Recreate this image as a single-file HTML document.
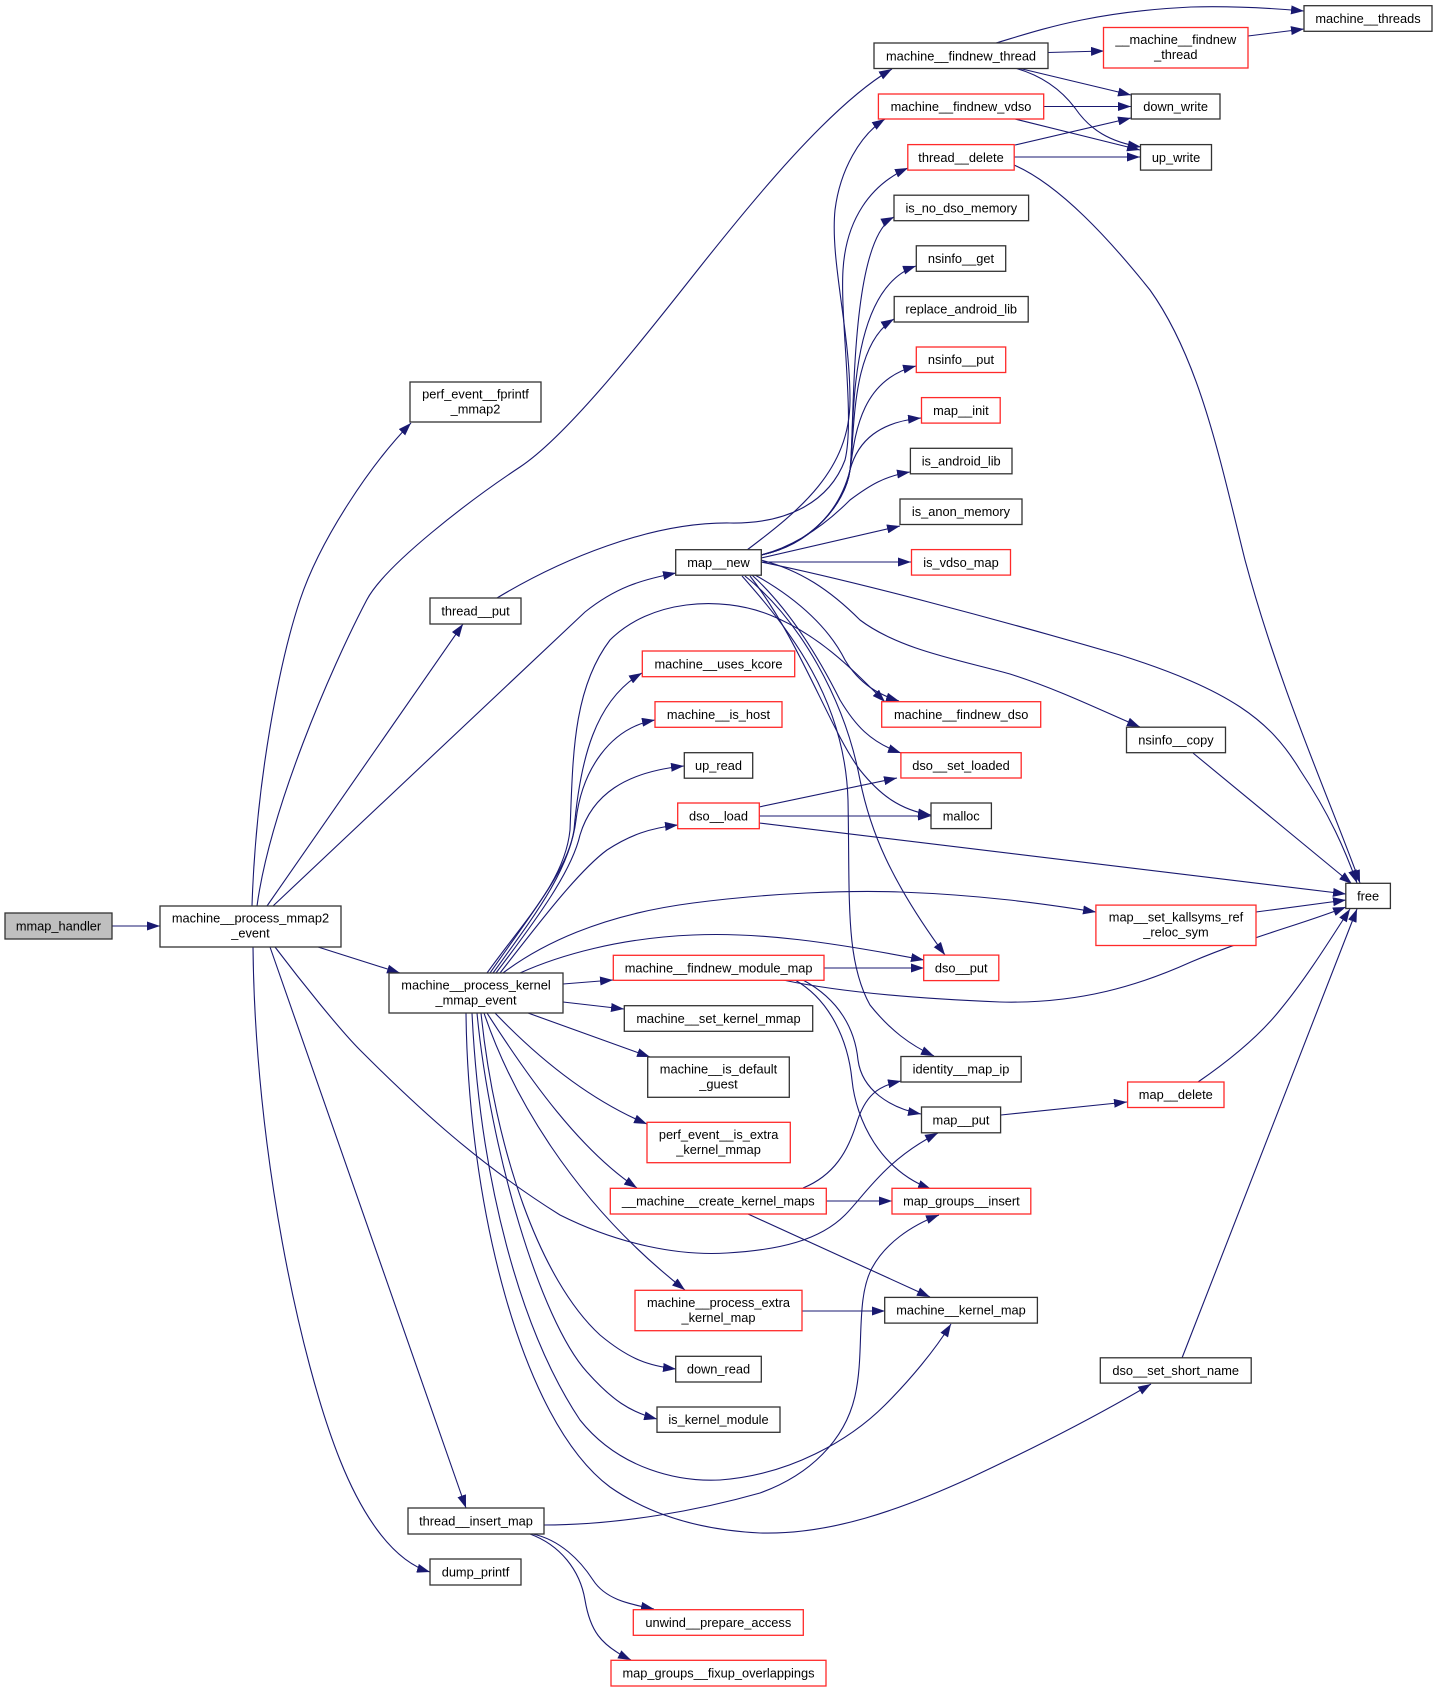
<!DOCTYPE html>
<html>
<head>
<meta charset="utf-8">
<style>
html,body{margin:0;padding:0;background:#fff;}
svg{display:block;}
text{font-family:"Liberation Sans",Arial,sans-serif;font-size:12.8px;fill:#000;text-anchor:middle;}
.e path{fill:none;stroke:#191970;stroke-width:1.1;marker-end:url(#a);}
.n rect{fill:#fff;stroke:#333;stroke-width:1.3;}
.n.r rect{stroke:#ff2a2a;}
</style>
</head>
<body>
<svg width="1437" height="1692" viewBox="0 0 1437 1692" xmlns="http://www.w3.org/2000/svg">
<defs>
<marker id="a" markerWidth="13" markerHeight="9" refX="13" refY="4.5" orient="auto" markerUnits="userSpaceOnUse">
<path d="M0,0 L13,4.5 L0,9 z" fill="#191970" stroke="none"/>
</marker>
</defs>
<rect x="0" y="0" width="1437" height="1692" fill="#fff"/>
<g class="e">
<!-- mmap_handler -> MPM2 -->
<path d="M112,926 L160,926"/>
<!-- MPM2 edges -->
<path d="M252,906 C256,780 280,660 300,600 C320,540 370,465 411,423"/>
<path d="M257,906 C270,810 330,670 366.7,600 C385,565 470,500 520,467 C570,434 650,330 700,267 C750,204 830,105 892,69"/>
<path d="M267,906 L463,624"/>
<path d="M273,906 L585,612 C615,588 640,580 676,573"/>
<path d="M318,947 L400,973"/>
<path d="M270,947 L466,1508"/>
<path d="M253,947 C255,1150 300,1360 340,1460 C360,1510 390,1560 430,1572"/>
<path d="M275,947 C300,980 340,1030 360,1050 C420,1110 480,1165 560,1215 C620,1245 680,1256 727,1253 C780,1250 820,1240 845,1215 C865,1195 885,1160 938,1133"/>
<!-- MPKE edges -->
<path d="M490,973 C530,915 568,870 574,830 C580,760 595,700 642,673"/>
<path d="M493,973 C535,915 570,870 576,820 C582,770 610,728 655,720"/>
<path d="M496,973 C540,915 572,870 580,835 C592,795 625,772 684,766"/>
<path d="M500,973 C545,915 580,870 607,850 C630,835 650,828 678,825"/>
<path d="M487,973 C525,920 565,880 570,830 C573,760 572,690 610,640 C650,600 720,595 770,615 C820,635 855,672 885,702"/>
<path d="M503,973 C540,945 600,915 693,903 C770,893 850,890 900,892 C980,895 1040,903 1096,912"/>
<path d="M520,973 C560,955 620,938 693,935 C760,932 830,942 924,960"/>
<path d="M563,984 L613,980"/>
<path d="M563,1002 L624,1009"/>
<path d="M528,1013 L650,1057"/>
<path d="M495,1013 C540,1060 590,1100 647,1124"/>
<path d="M487,1013 C530,1080 580,1150 637,1188"/>
<path d="M484,1013 C510,1090 570,1200 685,1290"/>
<path d="M481,1013 C495,1150 540,1280 600,1335 C630,1360 650,1366 676,1369"/>
<path d="M477,1013 C490,1150 540,1320 587,1372 C612,1400 630,1412 657,1419"/>
<path d="M472,1013 C480,1180 520,1330 580,1420 C620,1470 680,1482 720,1480 C790,1475 850,1440 885,1405 C910,1380 935,1350 951,1324"/>
<path d="M466,1013 C468,1200 520,1420 610,1487 C650,1515 700,1530 760,1533 C830,1535 900,1510 970,1478 C1030,1450 1090,1420 1151,1384"/>
<!-- thread__insert_map edges -->
<path d="M544,1525 C620,1525 700,1510 760,1493 C810,1475 845,1440 855,1396 C865,1352 855,1300 872,1268 C885,1244 910,1226 939,1215"/>
<path d="M533,1534 C560,1540 580,1560 593,1580 C606,1600 630,1604 654,1609"/>
<path d="M530,1534 C560,1545 580,1570 585,1600 C590,1630 600,1645 631,1660"/>
<!-- module_map edges -->
<path d="M824,968 L924,968"/>
<path d="M783,980 C830,990 900,998 1000,1002 C1080,1004 1140,985 1191,962 C1250,937 1300,925 1346,907"/>
<path d="M803,980 C840,1000 855,1030 858,1060 C862,1090 890,1108 921,1114"/>
<path d="M795,980 C830,1000 848,1040 852,1080 C856,1120 880,1170 931,1189"/>
<!-- create_kernel_maps edges -->
<path d="M826,1201 L892,1201"/>
<path d="M803,1188 C835,1175 848,1150 856,1125 C865,1095 878,1086 901,1081"/>
<path d="M748,1214 L930,1297"/>
<path d="M802,1311 L885,1311"/>
<path d="M1001,1115 L1127,1102"/>
<path d="M1198,1082 C1230,1060 1260,1035 1280,1010 C1305,980 1330,940 1350,909"/>
<path d="M1182,1358 L1357,909"/>
<path d="M1193,753 L1352,884"/>
<path d="M1256,912 L1346,900"/>
<!-- dso__load edges -->
<path d="M759,816 L931,816"/>
<path d="M759,807 L897,778"/>
<path d="M759,823 L1346,894"/>
<!-- map__new edges -->
<path d="M761,562 L911,562"/>
<path d="M761,558 L900,526"/>
<path d="M761,555 C800,545 830,520 850,500 C870,485 885,476 910,472"/>
<path d="M761,555 C810,545 840,510 850,470 C858,440 880,422 921,418"/>
<path d="M761,555 C810,545 845,505 850,470 C855,435 860,380 916,366"/>
<path d="M761,555 C810,545 845,505 850,470 C855,435 850,345 894,319"/>
<path d="M761,555 C810,545 845,505 850,470 C855,435 845,290 916,266"/>
<path d="M761,555 C810,545 845,505 850,470 C855,435 848,240 894,217"/>
<path d="M747,550 C800,510 850,470 850,400 C850,330 830,260 835,210 C840,170 860,135 885,119"/>
<path d="M755,575 C800,600 830,630 845,660 C860,685 880,695 899,701"/>
<path d="M752,575 C790,610 820,660 840,700 C855,725 870,742 901,753"/>
<path d="M750,576 C800,640 830,730 860,770 C880,795 900,810 931,815"/>
<path d="M745,576 C800,620 845,700 860,780 C870,830 890,880 945,955"/>
<path d="M742,576 C790,630 845,700 848,800 C850,900 845,960 870,1005 C890,1030 910,1045 934,1056"/>
<path d="M761,560 C800,570 830,590 860,620 C900,650 960,660 1010,674 C1060,690 1100,710 1140,727"/>
<path d="M761,562 C850,580 1000,620 1120,655 C1230,690 1270,720 1300,770 C1330,815 1345,850 1357,883"/>
<!-- thread__put -> thread__delete -->
<path d="M497,598 C560,560 650,522 730,523 C790,524 830,500 845,460 C855,420 840,320 843,270 C846,220 870,185 908,168"/>
<!-- top right -->
<path d="M1048,52.5 L1104,51"/>
<path d="M996,43 C1040,30 1090,12 1191,7 C1230,6 1270,8 1304,11"/>
<path d="M1018,68 L1131,95"/>
<path d="M1015,68 C1040,75 1060,88 1075,108 C1090,130 1110,142 1141,147"/>
<path d="M1248,36 L1304,29"/>
<path d="M1044,106.5 L1131,106.5"/>
<path d="M1015,119 L1140,150"/>
<path d="M1015,145 L1131,118"/>
<path d="M1014,157 L1140,157"/>
<path d="M1014,165 C1060,185 1110,240 1150,290 C1200,360 1220,460 1245,560 C1280,690 1330,800 1360,883"/>
</g>

<!-- Nodes -->
<g class="n"><rect x="5" y="913" width="107" height="26" style="fill:#bfbfbf"/><text x="58.5" y="930.5">mmap_handler</text></g>
<g class="n"><rect x="160" y="906" width="181" height="41"/><text x="250.5" y="922.5">machine__process_mmap2</text><text x="250.5" y="937.5">_event</text></g>
<g class="n"><rect x="410" y="382" width="131" height="40"/><text x="475.5" y="398.5">perf_event__fprintf</text><text x="475.5" y="413.5">_mmap2</text></g>
<g class="n"><rect x="430" y="598" width="91" height="26"/><text x="475.5" y="615.5">thread__put</text></g>
<g class="n"><rect x="389" y="973" width="174" height="40"/><text x="476" y="989.5">machine__process_kernel</text><text x="476" y="1004.5">_mmap_event</text></g>
<g class="n"><rect x="408" y="1508" width="136" height="26"/><text x="476" y="1525.5">thread__insert_map</text></g>
<g class="n"><rect x="430" y="1559" width="91" height="26"/><text x="475.5" y="1576.5">dump_printf</text></g>
<g class="n"><rect x="874" y="43" width="174" height="25.5"/><text x="961" y="60.3">machine__findnew_thread</text></g>
<g class="n r"><rect x="1103.5" y="27.5" width="144.5" height="40.5"/><text x="1175.8" y="44">__machine__findnew</text><text x="1175.8" y="59">_thread</text></g>
<g class="n"><rect x="1304" y="5.7" width="128" height="25.6"/><text x="1368" y="23">machine__threads</text></g>
<g class="n r"><rect x="878.4" y="94" width="165.3" height="25"/><text x="961" y="111">machine__findnew_vdso</text></g>
<g class="n"><rect x="1131.3" y="94" width="88.7" height="25"/><text x="1175.6" y="111">down_write</text></g>
<g class="n r"><rect x="907.8" y="144.6" width="106.4" height="25.5"/><text x="961" y="161.8">thread__delete</text></g>
<g class="n"><rect x="1140.5" y="144.6" width="71" height="25.5"/><text x="1176" y="161.8">up_write</text></g>
<g class="n"><rect x="894" y="195.2" width="134.6" height="25.5"/><text x="961.3" y="212.4">is_no_dso_memory</text></g>
<g class="n"><rect x="916.3" y="245.8" width="89.4" height="25.5"/><text x="961" y="263">nsinfo__get</text></g>
<g class="n"><rect x="894.2" y="296.5" width="134" height="25.5"/><text x="961.2" y="313.7">replace_android_lib</text></g>
<g class="n r"><rect x="916.3" y="347" width="89.4" height="25.5"/><text x="961" y="364.2">nsinfo__put</text></g>
<g class="n r"><rect x="921.5" y="397.6" width="78.7" height="25.5"/><text x="960.9" y="414.8">map__init</text></g>
<g class="n"><rect x="910.4" y="448.3" width="101.6" height="25.5"/><text x="961.2" y="465.5">is_android_lib</text></g>
<g class="n"><rect x="900" y="499" width="122" height="25.5"/><text x="961" y="516.2">is_anon_memory</text></g>
<g class="n r"><rect x="911.5" y="549.6" width="99" height="25.5"/><text x="961" y="566.8">is_vdso_map</text></g>
<g class="n"><rect x="675.7" y="549.7" width="85.6" height="25.5"/><text x="718.5" y="566.9">map__new</text></g>
<g class="n r"><rect x="642.3" y="651" width="152.4" height="25.7"/><text x="718.5" y="668.3">machine__uses_kcore</text></g>
<g class="n r"><rect x="655" y="701.7" width="127" height="25.6"/><text x="718.5" y="719">machine__is_host</text></g>
<g class="n"><rect x="684.3" y="752.7" width="68.4" height="25.5"/><text x="718.5" y="769.9">up_read</text></g>
<g class="n r"><rect x="677.7" y="803" width="81.6" height="25.7"/><text x="718.5" y="820.3">dso__load</text></g>
<g class="n r"><rect x="881.7" y="701.7" width="159" height="25.5"/><text x="961.2" y="718.9">machine__findnew_dso</text></g>
<g class="n r"><rect x="900.9" y="752.7" width="120.3" height="25.3"/><text x="961" y="769.8">dso__set_loaded</text></g>
<g class="n"><rect x="931" y="803" width="60.4" height="25.6"/><text x="961.2" y="820.3">malloc</text></g>
<g class="n"><rect x="1126.5" y="727.2" width="99" height="25.5"/><text x="1176" y="744.4">nsinfo__copy</text></g>
<g class="n"><rect x="1345.8" y="883.3" width="44.6" height="25.2"/><text x="1368.1" y="900.4">free</text></g>
<g class="n r"><rect x="1095.9" y="905.1" width="160.1" height="40.4"/><text x="1176" y="921.6">map__set_kallsyms_ref</text><text x="1176" y="936.6">_reloc_sym</text></g>
<g class="n r"><rect x="923.7" y="955.1" width="75.1" height="25.5"/><text x="961.2" y="972.3">dso__put</text></g>
<g class="n r"><rect x="613.3" y="955.3" width="210.7" height="25"/><text x="718.6" y="972.3">machine__findnew_module_map</text></g>
<g class="n"><rect x="624.3" y="1005.7" width="188.4" height="25.6"/><text x="718.5" y="1023">machine__set_kernel_mmap</text></g>
<g class="n"><rect x="647.7" y="1057" width="141.6" height="40.3"/><text x="718.5" y="1073.5">machine__is_default</text><text x="718.5" y="1088.5">_guest</text></g>
<g class="n"><rect x="900.9" y="1056.5" width="120.3" height="25.5"/><text x="961" y="1073.7">identity__map_ip</text></g>
<g class="n r"><rect x="1127.6" y="1082" width="96.4" height="25.5"/><text x="1175.8" y="1099.2">map__delete</text></g>
<g class="n"><rect x="921.5" y="1107" width="79.1" height="25.8"/><text x="961" y="1124.4">map__put</text></g>
<g class="n r"><rect x="647" y="1122.3" width="143.3" height="40.4"/><text x="718.6" y="1138.8">perf_event__is_extra</text><text x="718.6" y="1153.8">_kernel_mmap</text></g>
<g class="n r"><rect x="610.3" y="1188.3" width="216" height="25.7"/><text x="718.3" y="1205.6">__machine__create_kernel_maps</text></g>
<g class="n r"><rect x="892" y="1188.3" width="138.8" height="25.7"/><text x="961.4" y="1205.6">map_groups__insert</text></g>
<g class="n r"><rect x="635" y="1290.3" width="167" height="40.4"/><text x="718.5" y="1306.8">machine__process_extra</text><text x="718.5" y="1321.8">_kernel_map</text></g>
<g class="n"><rect x="884.7" y="1297.4" width="152.7" height="25.7"/><text x="961" y="1314.7">machine__kernel_map</text></g>
<g class="n"><rect x="1100.3" y="1357.8" width="150.9" height="25.3"/><text x="1175.7" y="1375">dso__set_short_name</text></g>
<g class="n"><rect x="675.7" y="1356.3" width="85.6" height="25.7"/><text x="718.5" y="1373.6">down_read</text></g>
<g class="n"><rect x="657" y="1407" width="123" height="25.3"/><text x="718.5" y="1424.1">is_kernel_module</text></g>
<g class="n r"><rect x="633.3" y="1609.7" width="170" height="25.6"/><text x="718.3" y="1627">unwind__prepare_access</text></g>
<g class="n r"><rect x="611" y="1660.3" width="215" height="25.7"/><text x="718.5" y="1677.6">map_groups__fixup_overlappings</text></g>
</svg>
</body>
</html>
